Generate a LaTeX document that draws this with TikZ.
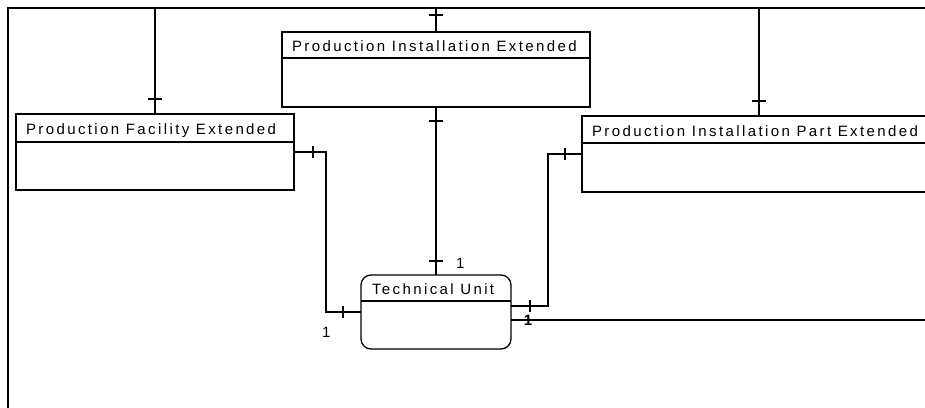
\documentclass[tikz,border=0pt]{standalone}
\usepackage{fontspec}
\newfontfamily\erfont[LetterSpace=16]{Liberation Sans}
\begin{document}
\begin{tikzpicture}[x=1pt,y=-1pt,
  entity/.style={draw=black,line width=1.3pt,fill=white,inner sep=0pt,outer sep=0pt,anchor=north west},
  title/.style={inner sep=0pt,outer sep=0pt,anchor=base west,font=\erfont\fontsize{15}{17}\selectfont},
  link/.style={draw=black,line width=1.4pt},
  tick/.style={draw=black,line width=1.4pt},
  frame/.style={draw=black,line width=2.6pt}]
\path[use as bounding box] (0,0) rectangle (925,407);
\clip (0,0) rectangle (925,407);
\draw[frame] (8,420) -- (8,8) -- (940,8);
\coordinate (frametop) at (0,8);
\coordinate (rim) at (925,320);
% entities
\node[entity,minimum width=278pt,minimum height=76pt] (pfe) at (16,114) {};
\node[entity,minimum width=308pt,minimum height=75pt] (pie) at (282,32) {};
\node[entity,minimum width=354pt,minimum height=76pt] (pipe) at (582,116) {};
\node[entity,rounded corners=10pt,minimum width=150pt,minimum height=74pt] (tu) at (361,275) {};
\draw[link] (pfe.west |- 0,142) -- (pfe.east |- 0,142);
\draw[link] (pie.west |- 0,58) -- (pie.east |- 0,58);
\draw[link] (pipe.west |- 0,143) -- (pipe.east |- 0,143);
\draw[link] (tu.west |- 0,301) -- (tu.east |- 0,301);
\node[title] (pfe-name) at (26,134) {Production Facility Extended};
\node[title] (pie-name) at (292,51) {Production Installation Extended};
\node[title] (pipe-name) at (592,136) {Production Installation Part Extended};
\node[title] (tu-name) at (372,294) {Technical Unit};
% relationships
\draw[link] (pfe.north |- frametop) -- (pfe.north);
\draw[link] (pie.north |- frametop) -- (pie.north);
\draw[link] (pipe.north |- frametop) -- (pipe.north);
\draw[link] (pie.south) -- (tu.north);
\draw[link] (pfe.east) -- ++(32,0) |- (tu.west);
\draw[link] (pipe.west) -- ++(-34,0) |- ([yshift=6pt]tu.east);
\draw[link] ([yshift=-8pt]tu.east) -- (rim);
% ticks
\draw[tick] ([yshift=15pt]pfe.north) ++(-7,0) -- ++(14,0);
\draw[tick] (pie.north |- 0,15) ++(-7,0) -- ++(14,0);
\draw[tick] ([yshift=15pt]pipe.north) ++(-7,0) -- ++(14,0);
\draw[tick] ([yshift=-14pt]pie.south) ++(-7,0) -- ++(14,0);
\draw[tick] ([yshift=14pt]tu.north) ++(-7,0) -- ++(14,0);
\draw[tick] ([xshift=19pt]pfe.east) ++(0,-6) -- ++(0,12);
\draw[tick] ([xshift=-18pt]tu.west) ++(0,-6) -- ++(0,12);
\draw[tick] ([xshift=-17pt]pipe.west) ++(0,-6) -- ++(0,12);
\draw[tick] ([xshift=19pt,yshift=6pt]tu.east) ++(0,-6) -- ++(0,12);
% cardinalities
\node[title] (tu-card-top) at (456,268) {1};
\node[title] (tu-card-left) at (322,337) {1};
\node[inner sep=0pt,font=\erfont\bfseries\fontsize{15}{17}\selectfont] (tu-card-right) at ([xshift=17pt,yshift=-8pt]tu.east) {1};
\end{tikzpicture}
\end{document}
